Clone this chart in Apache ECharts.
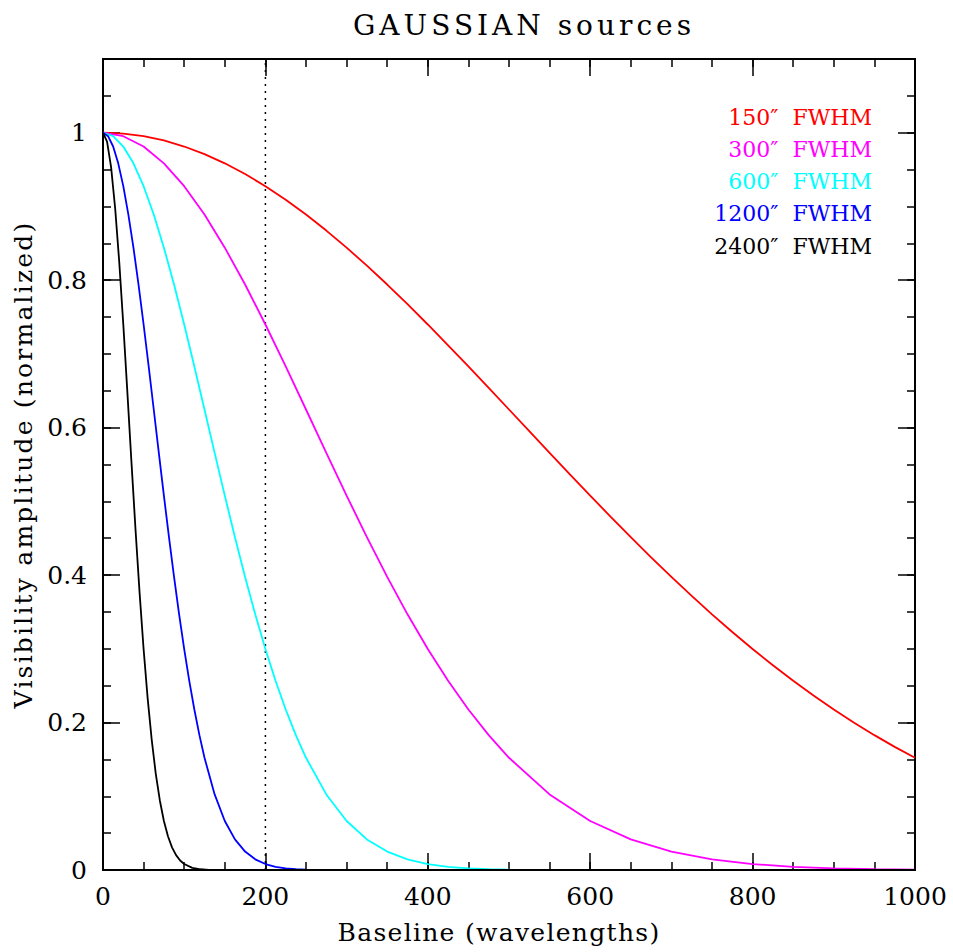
<!DOCTYPE html>
<html>
<head>
<meta charset="utf-8">
<script src="https://cdn.jsdelivr.net/npm/echarts@6/dist/echarts.min.js"></script>
<style>
html,body{margin:0;padding:0;background:#fff;}
#chart{width:953px;height:952px;}
#chart svg text{white-space:pre;}
</style>
</head>
<body>
<div id="chart"></div>
<script>
// ---- data ----
const titleText = 'GAUSSIAN sources';
const xName = 'Baseline (wavelengths)';
const yName = 'Visibility amplitude (normalized)';
const seriesNames = ['150″  FWHM', '300″  FWHM', '600″  FWHM', '1200″  FWHM', '2400″  FWHM'];
const seriesColors = ['#ff0000', '#ff00ff', '#00ffff', '#0000ff', '#000000'];
const xTicks = [0, 200, 400, 600, 800, 1000];
const yTicks = [0, 0.2, 0.4, 0.6, 0.8, 1];
const markerX = 200;

const redX = [0,25,50,75,100,125,150,175,200,225,250,275,300,325,350,375,400,425,450,475,500,525,550,575,600,625,650,675,700,725,750,775,800,825,850,875,900,925,950,975,1000];
const redY = [1,0.9988,0.9953,0.9895,0.9813,0.9710,0.9585,0.9440,0.9275,0.9091,0.8890,0.8673,0.8441,0.8197,0.7941,0.7674,0.7399,0.7117,0.6830,0.6539,0.6246,0.5952,0.5658,0.5366,0.5078,0.4793,0.4514,0.4241,0.3975,0.3717,0.3468,0.3228,0.2997,0.2777,0.2566,0.2366,0.2177,0.1997,0.1829,0.1670,0.1522];

const magX = [0,25,50,75,100,125,150,175,200,225,250,275,300,325,350,375,400,425,450,475,500,550,600,650,700,750,800,850,900,950,1000];
const magY = [1,0.9953,0.9813,0.9585,0.9275,0.8890,0.8441,0.7941,0.7399,0.6830,0.6246,0.5658,0.5078,0.4514,0.3975,0.3468,0.2997,0.2566,0.2177,0.1829,0.1522,0.1025,0.0665,0.0415,0.0250,0.0145,0.0081,0.0043,0.0022,0.0011,0.0005];

const cyanX = [0,12.5,25,37.5,50,62.5,75,87.5,100,112.5,125,137.5,150,162.5,175,187.5,200,212.5,225,237.5,250,275,300,325,350,375,400,425,450,475,500,600,800,1000];
const cyanY = [1,0.9953,0.9813,0.9585,0.9275,0.8890,0.8441,0.7941,0.7399,0.6830,0.6246,0.5658,0.5078,0.4514,0.3975,0.3468,0.2997,0.2566,0.2177,0.1829,0.1522,0.1025,0.0665,0.0415,0.0250,0.0145,0.0081,0.0043,0.0022,0.0011,0.0005,0,0,0];

const blueX = [0,6.25,12.5,18.75,25,31.25,37.5,43.75,50,56.25,62.5,68.75,75,81.25,87.5,93.75,100,106.25,112.5,118.75,125,137.5,150,162.5,175,187.5,200,212.5,225,237.5,250,300,500,1000];
const blueY = [1,0.9953,0.9813,0.9585,0.9275,0.8890,0.8441,0.7941,0.7399,0.6830,0.6246,0.5658,0.5078,0.4514,0.3975,0.3468,0.2997,0.2566,0.2177,0.1829,0.1522,0.1025,0.0665,0.0415,0.0250,0.0145,0.0081,0.0043,0.0022,0.0011,0.0005,0,0,0];

const blackX = [0,5,10,15,20,25,30,35,40,45,50,55,60,65,70,75,80,85,90,95,100,110,120,130,140,200,500,1000];
const blackY = [1,0.9880,0.9529,0.8972,0.8247,0.7399,0.6481,0.5541,0.4625,0.3769,0.2997,0.2327,0.1764,0.1305,0.0943,0.0665,0.0458,0.0307,0.0202,0.0129,0.0081,0.0029,0.0010,0.0003,0.0001,0,0,0];

const xsList = [redX, magX, cyanX, blueX, blackX];
const ysList = [redY, magY, cyanY, blueY, blackY];

// ---- chart ----
const FONT = 'DejaVu Serif';
const chart = echarts.init(document.getElementById('chart'), null, {renderer: 'svg'});

const axisLine = {show: true, onZero: false, lineStyle: {color: '#000', width: 2}};
function xAx(pos, major, showLabel) {
  return {
    type: 'value', position: pos, min: 0, max: 1000, interval: major ? 200 : 50,
    axisLine: axisLine,
    axisTick: {show: true, inside: true, length: major ? 17 : 8, lineStyle: {color: '#000', width: 1.5}},
    axisLabel: {show: showLabel, color: '#000', fontFamily: FONT, fontSize: 25, margin: 14,
      formatter: v => xTicks.includes(v) ? String(v) : ''},
    splitLine: {show: false}
  };
}
function yAx(pos, major, showLabel) {
  return {
    type: 'value', position: pos, min: 0, max: 1.1, interval: major ? 0.2 : 0.05,
    axisLine: axisLine,
    axisTick: {show: true, inside: true, length: major ? 17 : 8, lineStyle: {color: '#000', width: 1.5}},
    axisLabel: {show: showLabel, color: '#000', fontFamily: FONT, fontSize: 25, margin: 16,
      formatter: v => {
        const t = yTicks.find(k => Math.abs(k - v) < 1e-6);
        return t === undefined ? '' : String(t);
      }},
    splitLine: {show: false}
  };
}

const xAxes = [xAx('bottom', true, true), xAx('bottom', false, false), xAx('top', true, false), xAx('top', false, false)];
xAxes[0].name = xName;
xAxes[0].nameLocation = 'middle';
xAxes[0].nameGap = 50;
xAxes[0].nameTextStyle = {color: '#000', fontFamily: FONT, fontSize: 25, padding: [0, 20, 0, 0]};

const yAxes = [yAx('left', true, true), yAx('left', false, false), yAx('right', true, false), yAx('right', false, false)];
yAxes[0].name = yName;
yAxes[0].nameLocation = 'middle';
yAxes[0].nameGap = 60;
yAxes[0].nameTextStyle = {color: '#000', fontFamily: FONT, fontSize: 25, padding: [0, 0, 0, 0]};

const series = seriesNames.map((n, i) => ({
  name: n, type: 'line', showSymbol: false, smooth: false,
  xAxisIndex: 0, yAxisIndex: 0,
  lineStyle: {color: seriesColors[i], width: 1.8},
  itemStyle: {color: seriesColors[i]},
  data: xsList[i].map((x, j) => [x, ysList[i][j]]),
  z: 2 + i
}));
series.push({
  name: 'marker', type: 'line', showSymbol: false, xAxisIndex: 0, yAxisIndex: 0,
  lineStyle: {color: '#000', width: 1.5, type: [2, 5]},
  data: [[markerX, 0], [markerX, 1.1]], z: 1
});

const graphics = seriesNames.map((n, i) => ({
  type: 'text', right: 81, top: 106 + i * 32.3,
  style: {text: n, fill: seriesColors[i], font: '22px "' + FONT + '"', textAlign: 'right'}
}));

chart.setOption({
  animation: false,
  backgroundColor: '#fff',
  title: {text: titleText, left: 348, top: 6,
    textStyle: {color: '#000', fontFamily: FONT, fontSize: 28, fontWeight: 'normal'}},
  grid: {left: 103, right: 38, top: 59, bottom: 82, containLabel: false},
  xAxis: xAxes,
  yAxis: yAxes,
  series: series,
  graphic: graphics
});

// letter spacing to mimic the wide plotting font
const spacing = {};
spacing[titleText] = 4;
spacing[xName] = 1.3;
spacing[yName] = 2.2;
document.querySelectorAll('#chart svg text').forEach(t => {
  const s = spacing[t.textContent];
  if (s) t.style.letterSpacing = s + 'px';
});
</script>
</body>
</html>
